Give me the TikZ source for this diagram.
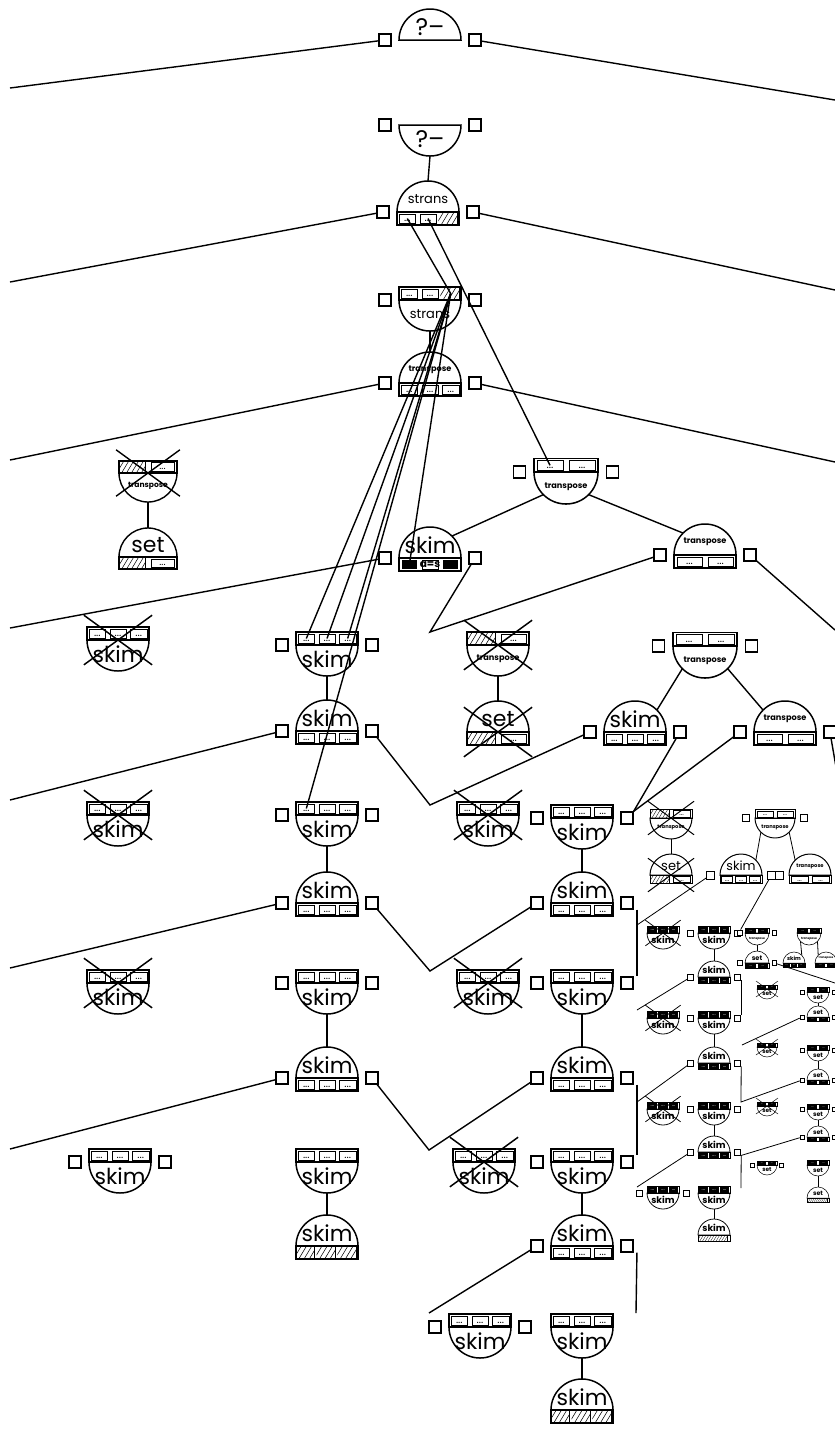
\documentclass[tikz,border=0pt]{standalone}
\usepackage{fontspec}
\setmainfont{Poppins}

\newcommand{\lf}[1]{\fontsize{#1}{#1}\selectfont}
\def\nocells{none}

% one bar of argument cells between y=#3 (top) and y=#4 (bottom)
\newcommand{\cellbar}[4]{%
  \def\celllist{#2}%
  \ifx\celllist\nocells\else
    \pgfmathsetmacro\ya{#3}\pgfmathsetmacro\yb{#4}%
    \pgfmathsetmacro\hh{\ya-\yb}%
    \pgfmathsetmacro\hx{0.6*\hh}%
    \foreach \ct [count=\k] in {#2} {\xdef\ncell{\k}}%
    \pgfmathsetmacro\cw{2*#1/\ncell}%
    \pgfmathsetmacro\ix{0.1*\cw}%
    \pgfmathsetmacro\iy{0.14*\hh}%
    \pgfmathsetmacro\dfs{0.17*#1}%
    \pgfmathsetmacro\hsp{0.17*#1}%
    \pgfmathtruncatemacro\sbar{#1<18}%
    \pgfmathtruncatemacro\nh{(\cw+\hx)/\hsp+1}%
    \draw (-#1,\yb) rectangle (#1,\ya);
    \foreach \ct [count=\k] in {#2} {
      \pgfmathsetmacro\xa{-#1+(\k-1)*\cw}
      \pgfmathsetmacro\xb{\xa+\cw}
      \pgfmathsetmacro\xm{\xa+0.5*\cw}
      \pgfmathsetmacro\ym{0.5*\ya+0.5*\yb}
      \coordinate (-c\k) at (\xm,\ym);
      \if\ct d
        \ifnum\sbar=1
          \fill (\xa+0.6*\ix,\yb+0.5*\iy) rectangle (\xb-0.6*\ix,\ya-0.5*\iy);
          \node[font=\lf{\dfs},text=white,inner sep=0pt,anchor=south] at (\xm,\yb+\iy) {...};
        \else
          \draw[line width=0.55\pgflinewidth] (\xa+\ix,\yb+\iy) rectangle (\xb-\ix,\ya-\iy);
          \node[font=\lf{\dfs},inner sep=0pt,anchor=south] at (\xm,\yb+1.3*\iy) {...};
        \fi
      \fi
      \if\ct m
        \draw[line width=0.55\pgflinewidth] (\xa+\ix,\yb+\iy) rectangle (\xb-\ix,\ya-\iy);
        \node[font=\lf{\dfs}\bfseries,inner sep=0pt] at (\xm,\ym) {a=s};
      \fi
      \if\ct f
        \fill (\xa+1.5*\ix,\yb+\iy) rectangle (\xb-1.5*\ix,\ya-\iy);
      \fi
      \if\ct h
        \begin{scope}
          \clip (\xa,\yb) rectangle (\xb-\ix,\ya);
          \foreach \j in {0,...,\nh}
            \draw[line width=0.6\pgflinewidth] (\xa-\hx+\j*\hsp,\yb) -- ++(\hx,\hh);
        \end{scope}
        \draw[line width=0.6\pgflinewidth] (\xb-\ix,\yb) -- (\xb-\ix,\ya);
      \fi
    }
  \fi}

\tikzset{
  % dome up, cells below: radius, cells, label, font, squares?, crossed?
  pics/head/.style n args={6}{code={%
    \pgfmathsetmacro\nr{#1}%
    \pgfmathsetlengthmacro\nlw{0.024*#1}%
    \pgfmathsetlengthmacro\nsq{0.19*#1}%
    \begin{scope}[line width=\nlw]
      \draw (-\nr,0) arc[start angle=180,end angle=0,radius=\nr] -- cycle;
      \node[font=#4,inner sep=0pt] (-txt) at (0,0.42*\nr) {#3};
      \cellbar{\nr}{#2}{0}{-0.42*\nr}
      \coordinate (-top) at (0,\nr);
      \coordinate (-tl) at (135:\nr);
      \coordinate (-tr) at (45:\nr);
      \ifnum#5=1
        \node[sqr,minimum size=\nsq] (-l) at (-1.45*\nr,0) {};
        \node[sqr,minimum size=\nsq] (-r) at (1.45*\nr,0) {};
      \fi
      \ifnum#6=1
        \draw (-1.1*\nr,0.8*\nr) -- (1.1*\nr,-0.8*\nr) (1.1*\nr,0.8*\nr) -- (-1.1*\nr,-0.8*\nr);
      \fi
    \end{scope}
  }},
  % cells on top, bowl down
  pics/goal/.style n args={6}{code={%
    \pgfmathsetmacro\nr{#1}%
    \pgfmathsetlengthmacro\nlw{0.024*#1}%
    \pgfmathsetlengthmacro\nsq{0.19*#1}%
    \begin{scope}[line width=\nlw]
      \draw (-\nr,0) arc[start angle=180,end angle=360,radius=\nr] -- cycle;
      \node[font=#4,inner sep=0pt] (-txt) at (0,-0.45*\nr) {#3};
      \cellbar{\nr}{#2}{0.42*\nr}{0}
      \coordinate (-bot) at (0,-\nr);
      \coordinate (-bl) at (225:\nr);
      \coordinate (-br) at (315:\nr);
      \ifnum#5=1
        \node[sqr,minimum size=\nsq] (-l) at (-1.45*\nr,0) {};
        \node[sqr,minimum size=\nsq] (-r) at (1.45*\nr,0) {};
      \fi
      \ifnum#6=1
        \draw (-1.1*\nr,0.8*\nr) -- (1.1*\nr,-0.8*\nr) (1.1*\nr,0.8*\nr) -- (-1.1*\nr,-0.8*\nr);
      \fi
    \end{scope}
  }},
}

\begin{document}
\begin{tikzpicture}[x=0.5pt,y=0.5pt,
    sqr/.style={draw,inner sep=0pt,fill=white},
    wire/.style={line width=0.7pt},
    thinwire/.style={line width=0.4pt}]
  \useasboundingbox (0,0) rectangle (835,-1442);

  % query and first clauses
  \pic (q1) at (430,-40) {head={31}{none}{?\textendash}{\lf{12}}{1}{0}};
  \pic (q2) at (430,-125) {goal={31}{none}{?\textendash}{\lf{12}}{1}{0}};
  \pic (s1) at (428,-212) {head={31}{d,d,h}{strans}{\lf{6.5}}{1}{0}};
  \pic (s2) at (430,-300) {goal={31}{d,d,h}{strans}{\lf{6.5}}{1}{0}};
  \pic (t1) at (430,-383) {head={31}{d,d,d}{transpose}{\lf{4.1}\bfseries}{1}{0}};

  \pic (t2) at (148,-473) {goal={29}{h,d}{transpose}{\lf{3.8}\bfseries}{0}{1}};
  \pic (e1) at (148,-557) {head={29}{h,d}{set}{\lf{11}}{0}{0}};
  \pic (t3) at (566,-472) {goal={32}{d,d}{transpose}{\lf{4.1}\bfseries}{1}{0}};
  \pic (k1) at (430,-558) {head={31}{f,m,f}{skim}{\lf{11}}{1}{0}};
  \pic (t4) at (705,-555) {head={31}{d,d}{transpose}{\lf{4.1}\bfseries}{1}{0}};

  \pic (k2) at (118,-640) {goal={31}{d,d,d}{skim}{\lf{11}}{0}{1}};
  \pic (k3) at (327,-645) {goal={31}{d,d,d}{skim}{\lf{11}}{1}{0}};
  \pic (t5) at (498,-645) {goal={31}{h,d}{transpose}{\lf{4.1}\bfseries}{0}{1}};
  \pic (e2) at (498,-732) {head={31}{h,d}{set}{\lf{11}}{0}{1}};
  \pic (t6) at (705,-646) {goal={32}{d,d}{transpose}{\lf{4.1}\bfseries}{1}{0}};
  \pic (k4) at (327,-731) {head={31}{d,d,d}{skim}{\lf{11}}{1}{0}};
  \pic (k5) at (635,-732) {head={31}{d,d,d}{skim}{\lf{11}}{1}{0}};
  \pic (t7) at (785,-732) {head={31}{d,d}{transpose}{\lf{4.1}\bfseries}{1}{0}};

  \pic (k6) at (118,-815) {goal={31}{d,d,d}{skim}{\lf{11}}{0}{1}};
  \pic (k7) at (327,-815) {goal={31}{d,d,d}{skim}{\lf{11}}{1}{0}};
  \pic (k8) at (488,-815) {goal={31}{d,d,d}{skim}{\lf{11}}{0}{1}};
  \pic (k9) at (582,-818) {goal={31}{d,d,d}{skim}{\lf{11}}{1}{0}};
  \pic (k11) at (327,-903) {head={31}{d,d,d}{skim}{\lf{11}}{1}{0}};
  \pic (k12) at (582,-903) {head={31}{d,d,d}{skim}{\lf{11}}{1}{0}};

  \pic (k13) at (118,-983) {goal={31}{d,d,d}{skim}{\lf{11}}{0}{1}};
  \pic (k14) at (327,-983) {goal={31}{d,d,d}{skim}{\lf{11}}{1}{0}};
  \pic (k15) at (488,-983) {goal={31}{d,d,d}{skim}{\lf{11}}{0}{1}};
  \pic (k16) at (582,-983) {goal={31}{d,d,d}{skim}{\lf{11}}{1}{0}};
  \pic (k17) at (327,-1078) {head={31}{d,d,d}{skim}{\lf{11}}{1}{0}};
  \pic (k18) at (582,-1078) {head={31}{d,d,d}{skim}{\lf{11}}{1}{0}};

  \pic (k19) at (120,-1162) {goal={31}{d,d,d}{skim}{\lf{11}}{1}{0}};
  \pic (k20) at (327,-1162) {goal={31}{d,d,d}{skim}{\lf{11}}{0}{0}};
  \pic (k21) at (484,-1162) {goal={31}{d,d,d}{skim}{\lf{11}}{0}{1}};
  \pic (k22) at (582,-1162) {goal={31}{d,d,d}{skim}{\lf{11}}{1}{0}};
  \pic (k23) at (327,-1246) {head={31}{h,h,h}{skim}{\lf{11}}{0}{0}};
  \pic (k24) at (582,-1246) {head={31}{d,d,d}{skim}{\lf{11}}{1}{0}};
  \pic (k25) at (480,-1327) {goal={31}{d,d,d}{skim}{\lf{11}}{1}{0}};
  \pic (k26) at (582,-1327) {goal={31}{d,d,d}{skim}{\lf{11}}{0}{0}};
  \pic (k27) at (582,-1410) {head={31}{h,h,h}{skim}{\lf{11}}{0}{0}};

  % small subtree on the right
  \pic (t8) at (671,-818) {goal={21}{h,d}{transpose}{\lf{2.6}\bfseries}{0}{1}};
  \pic (e3) at (671,-875) {head={21}{h,d}{set}{\lf{6.5}}{0}{1}};
  \pic (t9) at (775,-818) {goal={20}{d,d}{transpose}{\lf{2.6}\bfseries}{1}{0}};
  \pic (k10) at (741,-875) {head={21}{d,d,d}{skim}{\lf{6.3}}{1}{0}};
  \pic (t10) at (810,-875) {head={21}{d,d}{transpose}{\lf{2.6}\bfseries}{1}{0}};

  \pic (m1) at (663,-933) {goal={16}{d,d,d}{skim}{\lf{4.6}\bfseries}{0}{1}};
  \pic (m2) at (714,-933) {goal={16}{d,d,d}{skim}{\lf{4.6}\bfseries}{1}{0}};
  \pic (m3) at (757,-933) {goal={12}{d,d}{transpose}{\lf{1.5}\bfseries}{1}{0}};
  \pic (m4) at (757,-963) {head={12}{d,d}{set}{\lf{3.3}\bfseries}{1}{0}};
  \pic (m5) at (809,-933) {goal={12}{d,d}{transpose}{\lf{1.5}\bfseries}{0}{0}};
  \pic (m6) at (794,-963) {head={11}{d,d,d}{skim}{\lf{2.7}\bfseries}{0}{0}};
  \pic (m7) at (826,-963) {head={11}{d,d}{transpose}{\lf{1.4}\bfseries}{0}{0}};
  \pic (m8) at (714,-977) {head={16}{d,d,d}{skim}{\lf{4.6}\bfseries}{1}{0}};
  \pic (m9) at (767,-989) {goal={10}{d,d}{set}{\lf{2.9}\bfseries}{0}{1}};
  \pic (m10) at (818,-992) {goal={11}{d,d}{set}{\lf{3.1}\bfseries}{1}{0}};
  \pic (m11) at (663,-1018) {goal={16}{d,d,d}{skim}{\lf{4.6}\bfseries}{0}{1}};
  \pic (m12) at (714,-1018) {goal={16}{d,d,d}{skim}{\lf{4.6}\bfseries}{1}{0}};
  \pic (m13) at (818,-1017) {head={11}{d,d}{set}{\lf{3.1}\bfseries}{1}{0}};
  \pic (m14) at (767,-1047) {goal={10}{d,d}{set}{\lf{2.9}\bfseries}{0}{1}};
  \pic (m15) at (818,-1050) {goal={11}{d,d}{set}{\lf{3.1}\bfseries}{1}{0}};
  \pic (m16) at (714,-1063) {head={16}{d,d,d}{skim}{\lf{4.6}\bfseries}{1}{0}};
  \pic (m17) at (818,-1080) {head={11}{d,d}{set}{\lf{3.1}\bfseries}{1}{0}};
  \pic (m18) at (663,-1109) {goal={16}{d,d,d}{skim}{\lf{4.6}\bfseries}{0}{1}};
  \pic (m19) at (714,-1109) {goal={16}{d,d,d}{skim}{\lf{4.6}\bfseries}{1}{0}};
  \pic (m20) at (767,-1106) {goal={10}{d,d}{set}{\lf{2.9}\bfseries}{0}{1}};
  \pic (m21) at (818,-1109) {goal={11}{d,d}{set}{\lf{3.1}\bfseries}{1}{0}};
  \pic (m27) at (818,-1137) {head={11}{d,d}{set}{\lf{3.1}\bfseries}{1}{0}};
  \pic (m29) at (714,-1152) {head={16}{d,d,d}{skim}{\lf{4.6}\bfseries}{1}{0}};
  \pic (m25) at (767,-1165) {goal={10}{d,d}{set}{\lf{2.9}\bfseries}{1}{0}};
  \pic (m28) at (818,-1165) {goal={11}{d,d}{set}{\lf{3.1}\bfseries}{0}{0}};
  \pic (m26) at (818,-1198) {head={11}{h}{set}{\lf{3.1}\bfseries}{0}{0}};
  \pic (m22) at (663,-1193) {goal={16}{d,d,d}{skim}{\lf{4.6}\bfseries}{1}{0}};
  \pic (m23) at (714,-1193) {goal={16}{d,d,d}{skim}{\lf{4.6}\bfseries}{0}{0}};
  \pic (m24) at (714,-1235) {head={16}{h}{skim}{\lf{4.6}\bfseries}{0}{0}};

  % free ends
  \coordinate (le1) at (10,-88);   \coordinate (re1) at (835,-100);
  \coordinate (le2) at (10,-282);  \coordinate (re2) at (835,-290);
  \coordinate (le3) at (10,-460);  \coordinate (re3) at (835,-462);
  \coordinate (le4) at (10,-628);  \coordinate (re4) at (835,-630);
  \coordinate (le5) at (10,-800);  \coordinate (re5) at (840,-790);
  \coordinate (le6) at (10,-968);  \coordinate (le7) at (10,-1149);
  \coordinate (v1) at (430,-632);  \coordinate (v2) at (430,-805);
  \coordinate (v3) at (430,-971);  \coordinate (v4) at (429,-1150);
  \coordinate (j1) at (637,-925);  \coordinate (j2) at (637,-1010);
  \coordinate (j3) at (637,-1102); \coordinate (j4) at (636,-1313);
  \coordinate (j5) at (835,-983);  \coordinate (j6) at (637,-1187);
  \coordinate (j7) at (429,-1313);
  \coordinate (c1) at (742,-1045); \coordinate (c2) at (741,-1102);
  \coordinate (c3) at (741,-1188);

  \begin{scope}[wire]
    \draw (q1-l) -- (le1);  \draw (q1-r) -- (re1);
    \draw (s1-l) -- (le2);  \draw (s1-r) -- (re2);
    \draw (t1-l) -- (le3);  \draw (t1-r) -- (re3);
    \draw (k1-l) -- (le4);  \draw (t4-r) -- (re4);
    \draw (k4-l) -- (le5);  \draw (t7-r) -- (re5);
    \draw (k11-l) -- (le6); \draw (k17-l) -- (le7);
    \draw (k1-r) -- (v1) -- (t4-l);
    \draw (k4-r) -- (v2) -- (k5-l);
    \draw (k11-r) -- (v3) -- (k12-l);
    \draw (k17-r) -- (v4) -- (k18-l);
    \draw (k24-l) -- (j7);
    \draw (k5-r) -- (k9-r.north east);
    \draw (t7-l) -- (k9-r.north east);
    \draw ([xshift=5pt]k12-r.south) -- ([xshift=5pt]k16-r.north);
    \draw ([xshift=5pt]k18-r.south) -- ([xshift=5pt]k22-r.north);
    \draw ([xshift=5pt]k24-r.south) -- (j4);
    % parent to child
    \draw (q2-bot) -- (s1-top);
    \draw (s2-bot) -- (t1-top);
    \draw (t2-bot) -- (e1-top);
    \draw (t3-bl) -- (k1-tr);  \draw (t3-br) -- (t4-tl);
    \draw (t5-bot) -- (e2-top);
    \draw (t6-bl) -- (k5-tr);  \draw (t6-br) -- (t7-tl);
    \draw (k3-bot) -- (k4-top);
    \draw (k7-bot) -- (k11-top);  \draw (k9-bot) -- (k12-top);
    \draw (k14-bot) -- (k17-top); \draw (k16-bot) -- (k18-top);
    \draw (k20-bot) -- (k23-top); \draw (k22-bot) -- (k24-top);
    \draw (k26-bot) -- (k27-top);
    % argument links
    \draw (s1-c1) -- (s2-c3);
    \draw (s1-c2) -- (t3-c1);
    \foreach \e in {k3-c1,k3-c2,k3-c3,k7-c1,k1-c1}
      \draw (s2-c3) -- (\e);
  \end{scope}

  \begin{scope}[thinwire]
    \draw (t8-bot) -- (e3-top);
    \draw (t9-bl) -- (k10-tr);  \draw (t9-br) -- (t10-tl);
    \draw (k10-l) -- (j1);
    \draw (k10-r) -- (m2-r.north east);
    \draw (m2-bot) -- (m8-top);
    \draw (m3-bot) -- (m4-top);
    \draw (m5-bl) -- (m6-tr);  \draw (m5-br) -- (m7-tl);
    \draw (m4-r) -- (j5);
    \draw (m8-l) -- (j2);
    \draw ([xshift=2pt]m8-r.south) -- ([xshift=2pt]m12-r.north);
    \draw (c1) -- (m13-l);
    \draw (m10-bot) -- (m13-top);
    \draw (m12-bot) -- (m16-top);
    \draw (m15-bot) -- (m17-top);
    \draw (m16-l) -- (j3);
    \draw ([xshift=2pt]m16-r.south) -- (c2) -- (m17-l);
    \draw (m21-bot) -- (m27-top);
    \draw (m19-bot) -- (m29-top);
    \draw (m29-l) -- (j6);
    \draw ([xshift=2pt]m29-r.south) -- (c3);
    \draw ([xshift=2pt]m29-r.south) -- (m27-l);
    \draw (m28-bot) -- (m26-top);
    \draw (m23-bot) -- (m24-top);
  \end{scope}
\end{tikzpicture}
\end{document}
